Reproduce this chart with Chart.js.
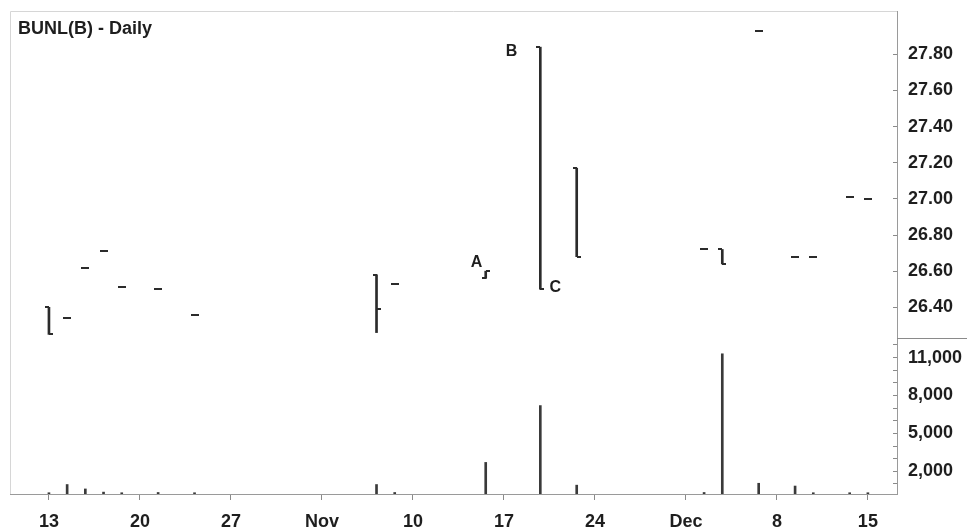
<!DOCTYPE html>
<html lang="en">
<head>
<meta charset="UTF-8">
<title>BUNL(B) - Daily</title>
<script src="https://cdn.jsdelivr.net/npm/chart.js"></script>
<style>
  html, body { margin: 0; padding: 0; background: #fff; }
  canvas { display: block; }
</style>
</head>
<body>
<canvas id="chart" width="967" height="531"></canvas>
<script>
// trading days counted from Mon 13 Oct 2008 (weekends skipped)
const days    = [0, 1, 2, 3, 4, 6, 8, 18, 19, 24, 27, 29, 36, 37, 39, 41, 42, 44, 45];
const opens   = [26.40, 26.34, 26.62, 26.71, 26.51, 26.50, 26.36, 26.58, 26.53, 26.56, 27.84, 27.17, 26.72, 26.72, 27.93, 26.68, 26.68, 27.01, 27.00];
const highs   = [26.40, 26.34, 26.62, 26.71, 26.51, 26.50, 26.36, 26.58, 26.53, 26.60, 27.84, 27.17, 26.72, 26.72, 27.93, 26.68, 26.68, 27.01, 27.00];
const lows    = [26.25, 26.34, 26.62, 26.71, 26.51, 26.50, 26.36, 26.26, 26.53, 26.56, 26.50, 26.68, 26.72, 26.64, 27.93, 26.68, 26.68, 27.01, 27.00];
const closes  = [26.25, 26.34, 26.62, 26.71, 26.51, 26.50, 26.36, 26.39, 26.53, 26.60, 26.50, 26.68, 26.72, 26.64, 27.93, 26.68, 26.68, 27.01, 27.00];
const volumes = [300, 950, 600, 350, 300, 320, 300, 950, 320, 2700, 7200, 900, 320, 11300, 1050, 830, 300, 300, 300];

const tickDays   = [0, 5, 10, 15, 20, 25, 30, 35, 40, 45];
const tickLabels = ['13', '20', '27', 'Nov', '10', '17', '24', 'Dec', '8', '15'];
const priceTicks = [26.4, 26.6, 26.8, 27.0, 27.2, 27.4, 27.6, 27.8];
const volumeTicks = [1000, 2000, 3000, 4000, 5000, 6000, 7000, 8000, 9000, 10000, 11000, 12000];
const volumeLabelled = [2000, 5000, 8000, 11000];

const notes = [
  { text: 'A', day: 23.5, price: 26.648 },
  { text: 'B', day: 25.42, price: 27.814 },
  { text: 'C', day: 27.82, price: 26.507 }
];

const ink = '#2b2b2b';
const axisFont = { family: 'Liberation Sans, Arial, Helvetica, sans-serif', size: 18, weight: 'bold' };

// no extra room for half labels at the axis ends
function noPad(s) {
  s.paddingTop = 0; s.paddingBottom = 0; s.paddingLeft = 0; s.paddingRight = 0;
}

// open tick to the left, close tick to the right of each high-low bar
const ohlcTicks = {
  id: 'ohlcTicks',
  afterDatasetsDraw(chart) {
    const ctx = chart.ctx;
    const ys = chart.scales.y;
    const meta = chart.getDatasetMeta(0);
    ctx.save();
    ctx.strokeStyle = ink;
    ctx.lineWidth = 2;
    meta.data.forEach((bar, i) => {
      const x = Math.round(bar.x);
      const yo = Math.round(ys.getPixelForValue(opens[i]));
      const yc = Math.round(ys.getPixelForValue(closes[i]));
      ctx.beginPath();
      ctx.moveTo(x - 4, yo); ctx.lineTo(x, yo);
      ctx.moveTo(x, yc); ctx.lineTo(x + 4, yc);
      ctx.stroke();
    });
    ctx.restore();
  }
};

// frame, title, pane separator and A/B/C labels
const decorations = {
  id: 'decorations',
  beforeDatasetsDraw(chart) {
    const { ctx, chartArea: a } = chart;
    ctx.save();
    ctx.strokeStyle = '#d6d6d6';
    ctx.lineWidth = 1;
    ctx.beginPath();
    ctx.moveTo(a.left + 0.5, a.bottom);
    ctx.lineTo(a.left + 0.5, a.top + 0.5);
    ctx.lineTo(a.right, a.top + 0.5);
    ctx.stroke();
    ctx.restore();
  },
  afterDraw(chart) {
    const { ctx, chartArea: a, scales } = chart;
    ctx.save();
    // separator between price and volume axes
    ctx.strokeStyle = '#8a8a8a';
    ctx.lineWidth = 1;
    ctx.beginPath();
    ctx.moveTo(a.right, Math.round(scales.yv.top) + 0.5);
    ctx.lineTo(chart.width, Math.round(scales.yv.top) + 0.5);
    ctx.stroke();

    ctx.fillStyle = '#1e1e1e';
    ctx.font = 'bold 18px "Liberation Sans", Arial, Helvetica, sans-serif';
    ctx.textAlign = 'left';
    ctx.textBaseline = 'alphabetic';
    ctx.fillText('BUNL(B) - Daily', a.left + 8, a.top + 23);

    ctx.font = 'bold 16px "Liberation Sans", Arial, Helvetica, sans-serif';
    ctx.textAlign = 'center';
    ctx.textBaseline = 'middle';
    notes.forEach(n => {
      ctx.fillText(n.text, scales.x.getPixelForValue(n.day), scales.y.getPixelForValue(n.price));
    });
    ctx.restore();
  }
};

new Chart(document.getElementById('chart'), {
  type: 'bar',
  data: {
    datasets: [
      {
        label: 'Price',
        data: days.map((d, i) => ({ x: d, y: [lows[i], highs[i]] })),
        yAxisID: 'y',
        backgroundColor: ink,
        barThickness: 2,
        grouped: false
      },
      {
        label: 'Volume',
        data: days.map((d, i) => ({ x: d, y: volumes[i] })),
        yAxisID: 'yv',
        backgroundColor: '#3a3a3a',
        barThickness: 2,
        grouped: false
      }
    ]
  },
  options: {
    responsive: false,
    animation: false,
    layout: { padding: { left: 10, top: 11, right: 0, bottom: 0 } },
    plugins: { legend: { display: false }, tooltip: { enabled: false } },
    scales: {
      x: {
        type: 'linear',
        min: -2.14,
        max: 46.6,
        offset: false,
        grid: { offset: false, drawOnChartArea: false, tickLength: 6, color: '#8a8a8a' },
        border: { color: '#9a9a9a' },
        ticks: {
          font: axisFont, color: '#1e1e1e', padding: 11, maxRotation: 0, autoSkip: false,
          callback: v => tickLabels[tickDays.indexOf(v)]
        },
        afterBuildTicks: s => { s.ticks = tickDays.map(v => ({ value: v })); },
        afterFit: s => { s.height = 37; noPad(s); }
      },
      y: {
        type: 'linear',
        position: 'right',
        stack: 'pane',
        stackWeight: 327,
        min: 26.23,
        max: 28.04,
        beginAtZero: false,
        grid: { drawOnChartArea: false, tickLength: -4, color: '#8a8a8a' },
        border: { color: '#9a9a9a' },
        ticks: { font: axisFont, color: '#1e1e1e', padding: 15, autoSkip: false, callback: v => v.toFixed(2) },
        afterBuildTicks: s => { s.ticks = priceTicks.map(v => ({ value: v })); },
        afterFit: s => { s.width = 70; noPad(s); }
      },
      yv: {
        type: 'linear',
        position: 'right',
        stack: 'pane',
        stackWeight: 156,
        min: 200,
        max: 12550,
        beginAtZero: false,
        grid: { drawOnChartArea: false, tickLength: -4, color: '#8a8a8a' },
        border: { color: '#9a9a9a' },
        ticks: {
          font: axisFont, color: '#1e1e1e', padding: 15, autoSkip: false,
          callback: v => volumeLabelled.includes(v) ? v.toLocaleString('en-US') : ''
        },
        afterBuildTicks: s => { s.ticks = volumeTicks.map(v => ({ value: v })); },
        afterFit: s => { s.width = 70; noPad(s); }
      }
    }
  },
  plugins: [ohlcTicks, decorations]
});
</script>
</body>
</html>
